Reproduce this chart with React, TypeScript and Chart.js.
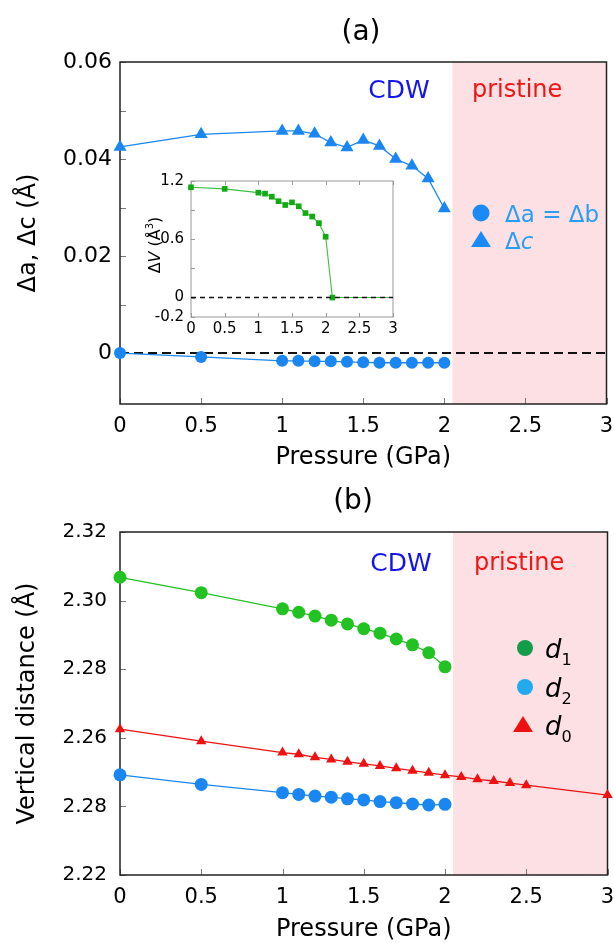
import React, { useEffect, useRef } from 'react';
import { Chart, registerables } from 'chart.js';
Chart.register(...registerables);

const FONT = 'DejaVu Sans';

// ---------- data: panel (a) ----------
const pressureA = [0, 0.5, 1.0, 1.1, 1.2, 1.3, 1.4, 1.5, 1.6, 1.7, 1.8, 1.9, 2.0];
const deltaC = [0.0425, 0.0451, 0.0458, 0.0458, 0.0452, 0.0434, 0.0424, 0.0439, 0.0427, 0.0400, 0.0386, 0.0360, 0.0298];
const deltaA = [0, -0.0008, -0.0016, -0.0016, -0.0017, -0.0017, -0.0018, -0.0019, -0.0020, -0.0020, -0.0020, -0.0020, -0.0020];
const zeroLineX = [0, 3];

// ---------- data: inset ----------
const pressureInset = [0, 0.5, 1.0, 1.1, 1.2, 1.3, 1.4, 1.5, 1.6, 1.7, 1.8, 1.9, 2.0, 2.1, 3.0];
const deltaV = [1.135, 1.119, 1.08, 1.07, 1.038, 0.992, 0.953, 0.98, 0.94, 0.87, 0.834, 0.766, 0.626, 0, 0];
const insetMarkerShown = [1, 1, 1, 1, 1, 1, 1, 1, 1, 1, 1, 1, 1, 1, 0];

// ---------- data: panel (b) ----------
const pressureB = [0, 0.5, 1.0, 1.1, 1.2, 1.3, 1.4, 1.5, 1.6, 1.7, 1.8, 1.9, 2.0];
const d1 = [2.3068, 2.3023, 2.2976, 2.2966, 2.2955, 2.2943, 2.2932, 2.2918, 2.2905, 2.2888, 2.2871, 2.2848, 2.2807];
const d2 = [2.2492, 2.2464, 2.244, 2.2435, 2.243, 2.2427, 2.2422, 2.2419, 2.2414, 2.2411, 2.2407, 2.2404, 2.2406];
const pressureD0 = [0, 0.5, 1.0, 1.1, 1.2, 1.3, 1.4, 1.5, 1.6, 1.7, 1.8, 1.9, 2.0, 2.1, 2.2, 2.3, 2.4, 2.5, 3.0];
const d0 = [2.2625, 2.259, 2.2557, 2.2552, 2.2543, 2.2537, 2.253, 2.2524, 2.2518, 2.2511, 2.2504, 2.2498, 2.2491, 2.2486, 2.2479, 2.2474, 2.2468, 2.2462, 2.2433];

// ---------- ticks ----------
const xTicks = [0, 0.5, 1, 1.5, 2, 2.5, 3];
const xTickLabels = ['0', '0.5', '1', '1.5', '2', '2.5', '3'];
const yTicksA = [0, 0.01, 0.02, 0.03, 0.04, 0.05, 0.06];
const yLabelsA = ['0', '', '0.02', '', '0.04', '', '0.06'];
const yTicksB = [2.22, 2.24, 2.26, 2.28, 2.3, 2.32];
const yLabelsB = ['2.22', '2.28', '2.26', '2.28', '2.30', '2.32'];
const yTicksInset = [-0.2, 0, 0.3, 0.6, 0.9, 1.2];
const yLabelsInset = ['-0.2', '0', '', '0.6', '', '1.2'];
const pristineStart = 2.05;

const BLUE = '#1a86f2';
const LEG_BLUE = '#2a9ef2';
const GREEN = '#22c222';
const RED = '#ee1111';
const PINK = '#fde0e3';

type Part = { t: string; i?: boolean; sub?: boolean; sup?: boolean };

function richWidth(ctx: CanvasRenderingContext2D, parts: Part[], size: number) {
  let w = 0;
  for (const p of parts) {
    const s = p.sub || p.sup ? size * 0.62 : size;
    ctx.font = `${p.i ? 'italic ' : ''}${s}px "${FONT}"`;
    w += ctx.measureText(p.t).width;
  }
  return w;
}

function drawRich(ctx: CanvasRenderingContext2D, parts: Part[], x: number, y: number, size: number, color: string) {
  ctx.save();
  ctx.fillStyle = color;
  ctx.textBaseline = 'alphabetic';
  ctx.textAlign = 'left';
  let cx = x;
  for (const p of parts) {
    const s = p.sub || p.sup ? size * 0.62 : size;
    ctx.font = `${p.i ? 'italic ' : ''}${s}px "${FONT}"`;
    const dy = p.sub ? size * 0.26 : p.sup ? -size * 0.42 : 0;
    ctx.fillText(p.t, cx, y + dy);
    cx += ctx.measureText(p.t).width;
  }
  ctx.restore();
}

function marker(ctx: CanvasRenderingContext2D, kind: 'circle' | 'triangle', x: number, y: number, r: number, color: string) {
  ctx.save();
  ctx.fillStyle = color;
  ctx.beginPath();
  if (kind === 'circle') {
    ctx.arc(x, y, r, 0, Math.PI * 2);
  } else {
    ctx.moveTo(x, y - r);
    ctx.lineTo(x + r * 0.866 * 1.15, y + r * 0.6);
    ctx.lineTo(x - r * 0.866 * 1.15, y + r * 0.6);
    ctx.closePath();
  }
  ctx.fill();
  ctx.restore();
}

function frame(chart: any, opts: { pink: boolean; box: string; boxW: number; tick: string; len: number; top?: boolean }) {
  const { ctx, chartArea: ca, scales } = chart;
  const x = scales.x;
  const y = scales.y;
  ctx.save();
  if (opts.pink) {
    const x0 = x.getPixelForValue(pristineStart);
    ctx.fillStyle = PINK;
    ctx.fillRect(x0, ca.top, ca.right - x0, ca.bottom - ca.top);
  }
  ctx.strokeStyle = opts.tick;
  ctx.lineWidth = 1;
  ctx.beginPath();
  for (const t of x.ticks) {
    const px = Math.round(x.getPixelForValue(t.value)) + 0.5;
    ctx.moveTo(px, ca.bottom);
    ctx.lineTo(px, ca.bottom - opts.len);
    if (opts.top) {
      ctx.moveTo(px, ca.top);
      ctx.lineTo(px, ca.top + opts.len);
    }
  }
  for (const t of y.ticks) {
    const py = Math.round(y.getPixelForValue(t.value)) + 0.5;
    ctx.moveTo(ca.left, py);
    ctx.lineTo(ca.left + opts.len, py);
  }
  ctx.stroke();
  ctx.strokeStyle = opts.box;
  ctx.lineWidth = opts.boxW;
  ctx.strokeRect(ca.left, ca.top, ca.right - ca.left, ca.bottom - ca.top);
  ctx.restore();
}

function xScale(height: number, size: number, pad: number) {
  return {
    type: 'linear',
    min: 0,
    max: 3,
    grid: { display: false, drawTicks: false },
    border: { display: false },
    afterBuildTicks: (s: any) => { s.ticks = xTicks.map((v) => ({ value: v })); },
    afterFit: (s: any) => { s.height = height; s.paddingLeft = 0; s.paddingRight = 0; },
    ticks: {
      autoSkip: false,
      maxRotation: 0,
      padding: pad,
      color: '#000',
      font: { family: FONT, size, lineHeight: 1.2 },
      callback: (_v: any, i: number) => xTickLabels[i],
    },
  } as any;
}

const plugA = {
  id: 'panelA',
  beforeDatasetsDraw(chart: any) {
    frame(chart, { pink: true, box: '#222', boxW: 1.5, tick: '#777', len: 6 });
  },
  afterDatasetsDraw(chart: any) {
    const ctx = chart.ctx as CanvasRenderingContext2D;
    ctx.save();
    ctx.textBaseline = 'middle';
    ctx.textAlign = 'center';
    ctx.fillStyle = '#000';
    ctx.font = `28px "${FONT}"`;
    ctx.fillText('(a)', 361, 33);
    ctx.font = `25px "${FONT}"`;
    ctx.fillStyle = '#1414ee';
    ctx.fillText('CDW', 399, 91);
    ctx.textAlign = 'left';
    ctx.font = `24px "${FONT}"`;
    ctx.fillStyle = '#f01414';
    ctx.fillText('pristine', 472, 91);
    ctx.restore();
    marker(ctx, 'circle', 481, 213, 8.5, '#1a8af5');
    drawRich(ctx, [{ t: 'Δa = Δb' }], 505, 222, 23, LEG_BLUE);
    marker(ctx, 'triangle', 481, 241, 10, '#1a8af5');
    drawRich(ctx, [{ t: 'Δ' }, { t: 'c', i: true }], 505, 249, 23, LEG_BLUE);
  },
};

const plugB = {
  id: 'panelB',
  beforeDatasetsDraw(chart: any) {
    frame(chart, { pink: true, box: '#222', boxW: 1.5, tick: '#777', len: 6 });
  },
  afterDatasetsDraw(chart: any) {
    const ctx = chart.ctx as CanvasRenderingContext2D;
    ctx.save();
    ctx.textBaseline = 'middle';
    ctx.textAlign = 'center';
    ctx.fillStyle = '#000';
    ctx.font = `28px "${FONT}"`;
    ctx.fillText('(b)', 353, 31);
    ctx.font = `25px "${FONT}"`;
    ctx.fillStyle = '#1414ee';
    ctx.fillText('CDW', 401, 93);
    ctx.textAlign = 'left';
    ctx.font = `24px "${FONT}"`;
    ctx.fillStyle = '#f01414';
    ctx.fillText('pristine', 474, 93);
    ctx.restore();
    marker(ctx, 'circle', 525, 177, 8, '#139c4a');
    drawRich(ctx, [{ t: 'd', i: true }, { t: '1', sub: true }], 545, 187, 26, '#000');
    marker(ctx, 'circle', 525, 216, 8, '#22aaee');
    drawRich(ctx, [{ t: 'd', i: true }, { t: '2', sub: true }], 545, 226, 26, '#000');
    marker(ctx, 'triangle', 523, 255, 10, RED);
    drawRich(ctx, [{ t: 'd', i: true }, { t: '0', sub: true }], 545, 264, 26, '#000');
  },
};

const plugInset = {
  id: 'inset',
  beforeDatasetsDraw(chart: any) {
    frame(chart, { pink: false, box: '#999', boxW: 1, tick: '#999', len: 4, top: true });
  },
  afterDatasetsDraw(chart: any) {
    const ctx = chart.ctx as CanvasRenderingContext2D;
    const parts: Part[] = [{ t: 'Δ' }, { t: 'V', i: true }, { t: ' (Å' }, { t: '3', sup: true }, { t: ')' }];
    const size = 16;
    const w = richWidth(ctx, parts, size);
    ctx.save();
    ctx.translate(24, 80);
    ctx.rotate(-Math.PI / 2);
    drawRich(ctx, parts, -w / 2, 6, size, '#000');
    ctx.restore();
  },
};

export default function App() {
  const aRef = useRef<HTMLCanvasElement>(null);
  const bRef = useRef<HTMLCanvasElement>(null);
  const iRef = useRef<HTMLCanvasElement>(null);

  useEffect(() => {
    const charts: Chart[] = [];

    charts.push(
      new Chart(aRef.current as HTMLCanvasElement, {
        type: 'line',
        data: {
          datasets: [
            {
              label: 'Δa = Δb',
              data: pressureA.map((x, i) => ({ x, y: deltaA[i] })),
              borderColor: BLUE,
              backgroundColor: BLUE,
              pointBackgroundColor: BLUE,
              pointBorderColor: BLUE,
              pointStyle: 'circle',
              pointRadius: 6,
              pointBorderWidth: 0,
              borderWidth: 1.3,
              order: 0,
              clip: false,
            },
            {
              label: 'zero',
              data: zeroLineX.map((x) => ({ x, y: 0 })),
              borderColor: '#111',
              borderWidth: 2,
              borderDash: [9, 5],
              pointRadius: 0,
              order: 1,
              clip: false,
            },
            {
              label: 'Δc',
              data: pressureA.map((x, i) => ({ x, y: deltaC[i] })),
              borderColor: BLUE,
              backgroundColor: BLUE,
              pointBackgroundColor: BLUE,
              pointBorderColor: BLUE,
              pointStyle: 'triangle',
              pointRadius: 7.5,
              pointBorderWidth: 0,
              borderWidth: 1.3,
              order: 2,
              clip: false,
            },
          ],
        },
        options: {
          responsive: false,
          animation: false,
          devicePixelRatio: 1,
          layout: { padding: { left: 0, right: 4, top: 62, bottom: 0 } },
          plugins: { legend: { display: false }, tooltip: { enabled: false } },
          scales: {
            x: {
              ...xScale(67, 21, 10),
              title: { display: true, text: 'Pressure (GPa)', color: '#000', font: { family: FONT, size: 24, lineHeight: 1 }, padding: { top: 0, bottom: 1 } },
            },
            y: {
              type: 'linear',
              min: -0.0105,
              max: 0.06,
              grid: { display: false, drawTicks: false },
              border: { display: false },
              afterBuildTicks: (s: any) => { s.ticks = yTicksA.map((v) => ({ value: v })); },
              afterFit: (s: any) => { s.width = 120; },
              ticks: {
                autoSkip: false,
                padding: 8,
                color: '#000',
                font: { family: FONT, size: 22 },
                callback: (_v: any, i: number) => yLabelsA[i],
              },
              title: { display: true, text: 'Δa, Δc (Å)', color: '#000', font: { family: FONT, size: 24, lineHeight: 1.2 }, padding: { top: 14, bottom: 0 } },
            },
          },
        } as any,
        plugins: [plugA],
      } as any)
    );

    charts.push(
      new Chart(iRef.current as HTMLCanvasElement, {
        type: 'line',
        data: {
          datasets: [
            {
              label: 'zero',
              data: zeroLineX.map((x) => ({ x, y: 0 })),
              borderColor: '#111',
              borderWidth: 1.6,
              borderDash: [5, 4],
              pointRadius: 0,
              order: 0,
              clip: false,
            },
            {
              label: 'ΔV',
              data: pressureInset.map((x, i) => ({ x, y: deltaV[i] })),
              borderColor: '#3cbf3c',
              backgroundColor: '#12aa12',
              pointBackgroundColor: '#12aa12',
              pointBorderColor: '#12aa12',
              pointStyle: 'rect',
              pointRadius: insetMarkerShown.map((m) => (m ? 4 : 0)),
              pointBorderWidth: 0,
              borderWidth: 1.1,
              order: 1,
              clip: false,
            },
          ],
        },
        options: {
          responsive: false,
          animation: false,
          devicePixelRatio: 1,
          layout: { padding: { left: 0, right: 9, top: 9, bottom: 0 } },
          plugins: { legend: { display: false }, tooltip: { enabled: false } },
          scales: {
            x: xScale(28, 15, 3),
            y: {
              type: 'linear',
              min: -0.2,
              max: 1.2,
              grid: { display: false, drawTicks: false },
              border: { display: false },
              afterBuildTicks: (s: any) => { s.ticks = yTicksInset.map((v) => ({ value: v })); },
              afterFit: (s: any) => { s.width = 61; },
              ticks: {
                autoSkip: false,
                padding: 7,
                color: '#000',
                font: { family: FONT, size: 15 },
                callback: (_v: any, i: number) => yLabelsInset[i],
              },
            },
          },
        } as any,
        plugins: [plugInset],
      } as any)
    );

    charts.push(
      new Chart(bRef.current as HTMLCanvasElement, {
        type: 'line',
        data: {
          datasets: [
            {
              label: 'd1',
              data: pressureB.map((x, i) => ({ x, y: d1[i] })),
              borderColor: GREEN,
              backgroundColor: GREEN,
              pointBackgroundColor: GREEN,
              pointBorderColor: GREEN,
              pointStyle: 'circle',
              pointRadius: 6.5,
              pointBorderWidth: 0,
              borderWidth: 1.3,
              order: 0,
              clip: false,
            },
            {
              label: 'd2',
              data: pressureB.map((x, i) => ({ x, y: d2[i] })),
              borderColor: BLUE,
              backgroundColor: BLUE,
              pointBackgroundColor: BLUE,
              pointBorderColor: BLUE,
              pointStyle: 'circle',
              pointRadius: 6.5,
              pointBorderWidth: 0,
              borderWidth: 1.3,
              order: 1,
              clip: false,
            },
            {
              label: 'd0',
              data: pressureD0.map((x, i) => ({ x, y: d0[i] })),
              borderColor: RED,
              backgroundColor: RED,
              pointBackgroundColor: RED,
              pointBorderColor: RED,
              pointStyle: 'triangle',
              pointRadius: 6,
              pointBorderWidth: 0,
              borderWidth: 1.3,
              order: 2,
              clip: false,
            },
          ],
        },
        options: {
          responsive: false,
          animation: false,
          devicePixelRatio: 1,
          layout: { padding: { left: 0, right: 4, top: 61, bottom: 0 } },
          plugins: { legend: { display: false }, tooltip: { enabled: false } },
          scales: {
            x: {
              ...xScale(68, 21, 10),
              title: { display: true, text: 'Pressure (GPa)', color: '#000', font: { family: FONT, size: 24, lineHeight: 1 }, padding: { top: 0, bottom: 1 } },
            },
            y: {
              type: 'linear',
              min: 2.22,
              max: 2.32,
              grid: { display: false, drawTicks: false },
              border: { display: false },
              afterBuildTicks: (s: any) => { s.ticks = yTicksB.map((v) => ({ value: v })); },
              afterFit: (s: any) => { s.width = 120; },
              ticks: {
                autoSkip: false,
                padding: 13,
                color: '#000',
                font: { family: FONT, size: 20 },
                callback: (_v: any, i: number) => yLabelsB[i],
              },
              title: { display: true, text: 'Vertical distance (Å)', color: '#000', font: { family: FONT, size: 24, lineHeight: 1.2 }, padding: { top: 13, bottom: 0 } },
            },
          },
        } as any,
        plugins: [plugB],
      } as any)
    );

    return () => charts.forEach((c) => c.destroy());
  }, []);

  return (
    <div style={{ position: 'absolute', left: 0, top: 0, width: 614, height: 943, background: '#fff', overflow: 'hidden' }}>
      <canvas ref={aRef} width={614} height={471} style={{ position: 'absolute', left: 0, top: 0 }} />
      <canvas ref={bRef} width={614} height={472} style={{ position: 'absolute', left: 0, top: 471 }} />
      <canvas ref={iRef} width={272} height={180} style={{ position: 'absolute', left: 130, top: 165 }} />
    </div>
  );
}
